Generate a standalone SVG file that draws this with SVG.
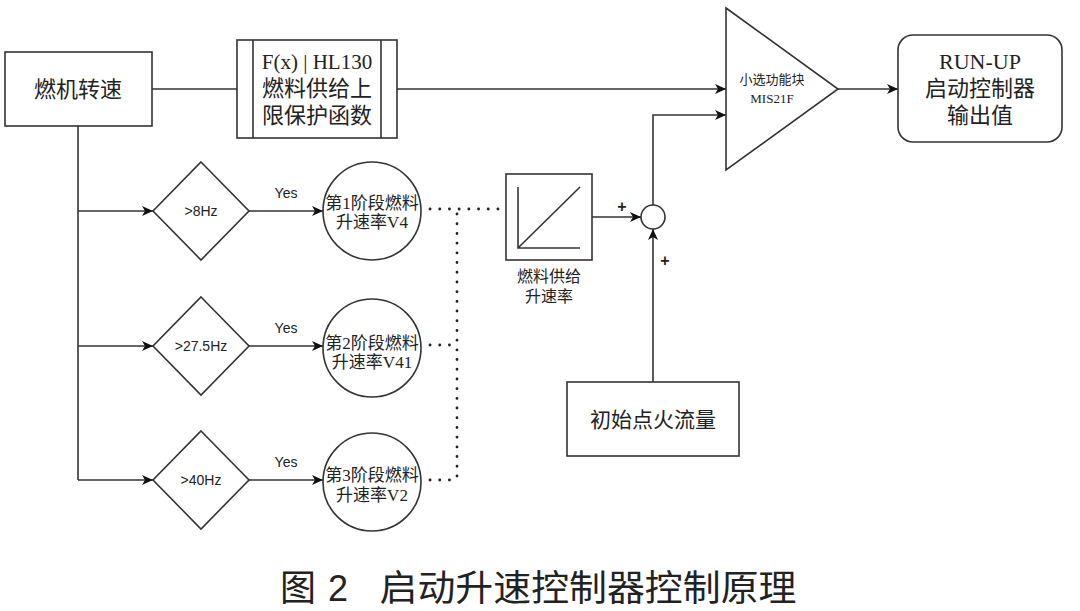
<svg xmlns="http://www.w3.org/2000/svg" width="1080" height="611" viewBox="0 0 1080 611">
<style>
.s{fill:#fff;stroke:#333;stroke-width:1.6}
.c{fill:none;stroke:#333;stroke-width:1.6}
.d{fill:none;stroke:#222;stroke-width:2.8;stroke-dasharray:0.1 9.6;stroke-linecap:round}
.t{font-family:"Liberation Serif","Noto Sans CJK SC",serif;fill:#222;text-anchor:middle}
.h{font-family:"Liberation Sans","Noto Sans CJK SC",sans-serif;fill:#222;text-anchor:middle}
</style>
<defs>
<marker id="a" markerUnits="userSpaceOnUse" markerWidth="12" markerHeight="10" refX="11" refY="5" orient="auto">
<path d="M0,0 L11,5 L0,10 L3,5 z" fill="#111"/>
</marker>
</defs>
<g id="connectors">
<path class="c" d="M152,89 H237"/>
<path class="c" d="M397,89 H726" marker-end="url(#a)"/>
<path class="c" d="M838,89 H898" marker-end="url(#a)"/>
<path class="c" d="M653,205 V115 H726" marker-end="url(#a)"/>
<path class="c" d="M592,217 H641" marker-end="url(#a)"/>
<path class="c" d="M653,382 V229" marker-end="url(#a)"/>
<path class="c" d="M78,126 V480"/>
<path class="c" d="M78,211 H153" marker-end="url(#a)"/>
<path class="c" d="M78,346 H153" marker-end="url(#a)"/>
<path class="c" d="M78,480 H153" marker-end="url(#a)"/>
<path class="c" d="M249,211 H323" marker-end="url(#a)"/>
<path class="c" d="M249,346 H323" marker-end="url(#a)"/>
<path class="c" d="M249,480 H323" marker-end="url(#a)"/>
<path class="d" d="M430,209 H506"/>
<path class="d" d="M457,214 V480"/>
<path class="d" d="M430,345 H457"/>
<path class="d" d="M430,480 H457"/>
<text class="h" x="286" y="198" font-size="14">Yes</text>
<text class="h" x="286" y="333" font-size="14">Yes</text>
<text class="h" x="286" y="467" font-size="14">Yes</text>
<text class="h" x="622" y="212" font-size="16" font-weight="bold">+</text>
<text class="h" x="665" y="266" font-size="16" font-weight="bold">+</text>
</g>
<g id="speed">
<rect class="s" x="5" y="52" width="147" height="74"/>
<text class="h" x="78" y="97" font-size="22">燃机转速</text>
</g>
<g id="fx">
<rect class="s" x="237" y="40" width="160" height="98"/>
<path class="c" d="M253,40 V138 M381,40 V138"/>
<text class="t" x="317" y="69" font-size="21">F(x) | HL130</text>
<text class="h" x="317" y="96" font-size="22">燃料供给上</text>
<text class="h" x="317" y="123" font-size="22">限保护函数</text>
</g>
<g id="min">
<path class="s" d="M726,8 L838,89 L726,170 Z"/>
<text class="h" x="772" y="84" font-size="13">小选功能块</text>
<text class="t" x="772" y="103" font-size="13">MIS21F</text>
</g>
<g id="runup">
<rect class="s" x="898" y="35" width="164" height="107" rx="15"/>
<text class="t" x="980" y="69" font-size="22">RUN-UP</text>
<text class="h" x="980" y="96" font-size="22">启动控制器</text>
<text class="h" x="980" y="123" font-size="22">输出值</text>
</g>
<g id="d1">
<path class="s" d="M201,162 L249,211 L201,260 L153,211 Z"/>
<text class="h" x="201" y="216" font-size="14">&gt;8Hz</text>
</g>
<g id="d2">
<path class="s" d="M201,297 L249,346 L201,395 L153,346 Z"/>
<text class="h" x="201" y="351" font-size="14">&gt;27.5Hz</text>
</g>
<g id="d3">
<path class="s" d="M201,431 L249,480 L201,529 L153,480 Z"/>
<text class="h" x="201" y="485" font-size="14">&gt;40Hz</text>
</g>
<g id="v1">
<circle class="s" cx="372" cy="211" r="49"/>
<text class="t" x="372" y="209" font-size="17">第1阶段燃料</text>
<text class="t" x="372" y="228" font-size="17">升速率V4</text>
</g>
<g id="v2">
<circle class="s" cx="372" cy="348" r="49"/>
<text class="t" x="372" y="349" font-size="17">第2阶段燃料</text>
<text class="t" x="372" y="368" font-size="17">升速率V41</text>
</g>
<g id="v3">
<circle class="s" cx="372" cy="482" r="49"/>
<text class="t" x="372" y="481" font-size="17">第3阶段燃料</text>
<text class="t" x="372" y="501" font-size="17">升速率V2</text>
</g>
<g id="ramp">
<rect class="s" x="506" y="174" width="86" height="86"/>
<path class="c" d="M518,187 V248 H580 M518,248 L580,187"/>
<text class="h" x="549" y="282" font-size="16">燃料供给</text>
<text class="h" x="549" y="302" font-size="16">升速率</text>
</g>
<g id="sum">
<circle class="s" cx="653" cy="217" r="12"/>
</g>
<g id="ignite">
<rect class="s" x="567" y="382" width="172" height="74"/>
<text class="h" x="653" y="427" font-size="21">初始点火流量</text>
</g>
<g id="caption">
<text class="h" x="298" y="601" font-size="36">图</text>
<text class="h" x="338" y="601" font-size="36">2</text>
<text class="h" x="588" y="601" font-size="36" textLength="417" lengthAdjust="spacingAndGlyphs">启动升速控制器控制原理</text>
</g>
</svg>
